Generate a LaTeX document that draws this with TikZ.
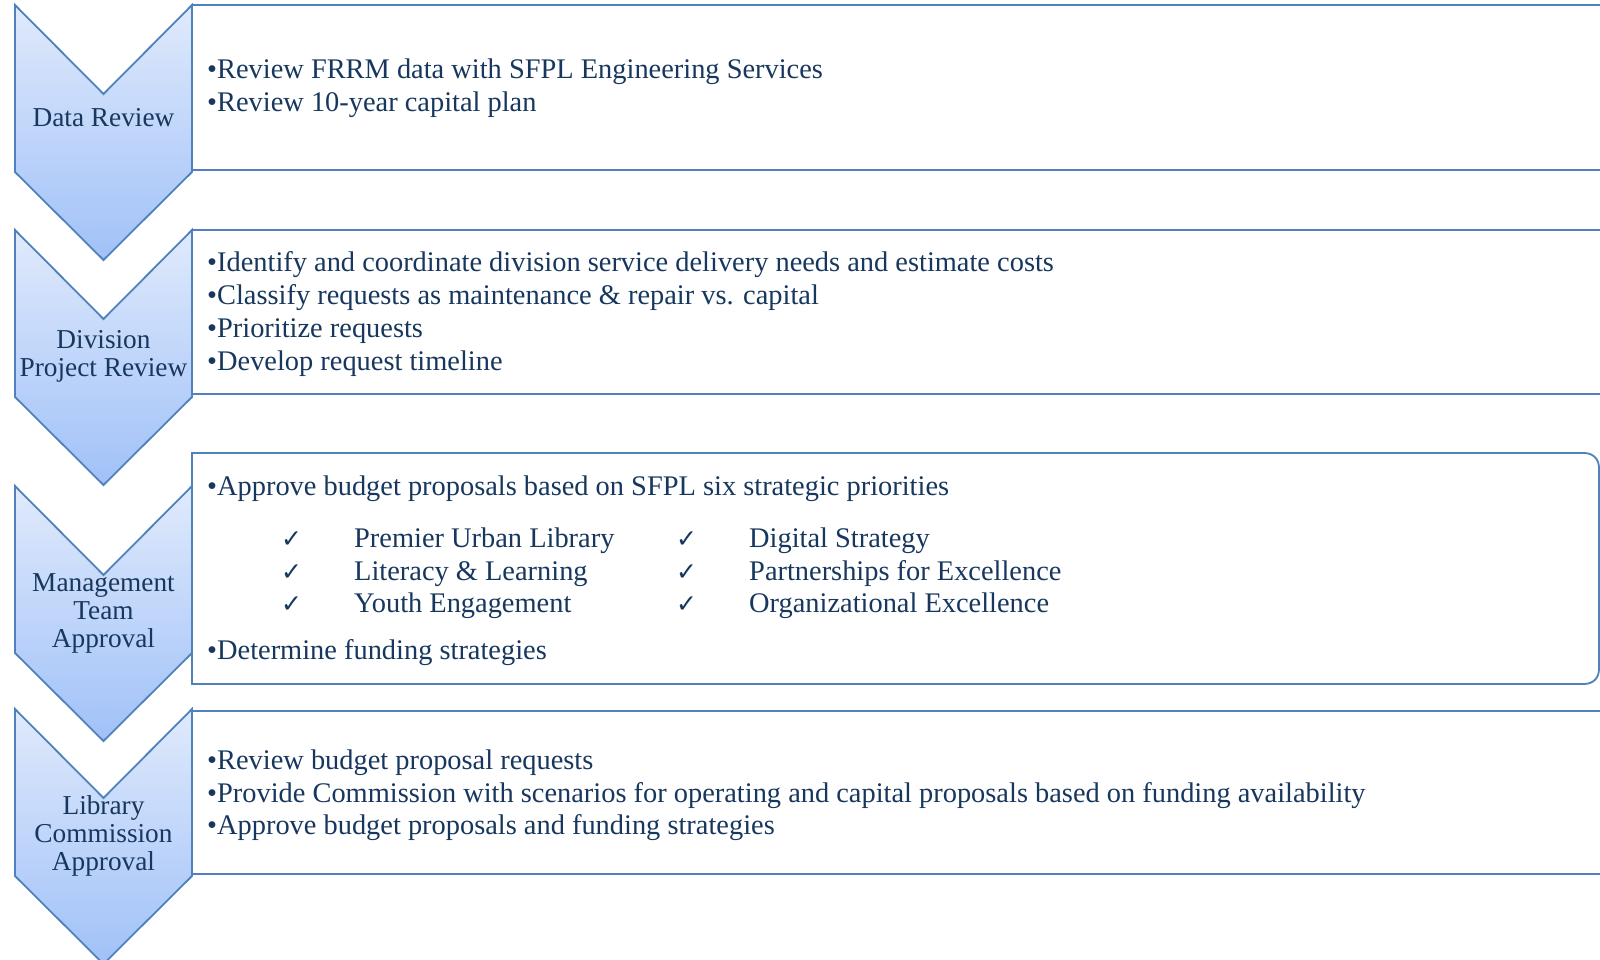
\documentclass[tikz,border=0pt]{standalone}
\usepackage{fontspec}
\setmainfont{Liberation Serif}
\newfontfamily\checkfont{DejaVu Sans}
\usepackage{tikz}
\usepackage{xcolor}

\definecolor{chevtop}{RGB}{224,234,252}
\definecolor{chevbot}{RGB}{160,193,248}
\definecolor{edgeblue}{RGB}{79,129,189}
\definecolor{inkblue}{RGB}{23,55,94}

\tikzset{
  chevron/.style={draw=edgeblue, line width=1.8pt, top color=chevtop, bottom color=chevbot},
  panel/.style={draw=edgeblue, line width=1.8pt, fill=white},
  steplabel/.style={text=inkblue, align=center, inner sep=0pt, font=\fontsize{27.3}{28}\selectfont},
  item/.style={text=inkblue, anchor=base west, inner sep=0pt, font=\fontsize{28.4}{33}\selectfont},
  tick/.style={text=inkblue, anchor=base west, inner sep=0pt, font=\checkfont\fontsize{25}{25}\selectfont}
}

\begin{document}
\begin{tikzpicture}[x=1pt,y=-1pt]
\useasboundingbox (0,0) rectangle (1600,960);

% Recuadros
\draw[panel] (192,5) rectangle (1615,170);
\draw[panel] (192,230) rectangle (1615,394);
\draw[panel] (192,684) -- (192,453) -- (1584,453) .. controls (1593,453) and (1599,459) .. (1599,468)
  -- (1599,669) .. controls (1599,678) and (1593,684) .. (1584,684) -- cycle;
\draw[panel] (192,711) rectangle (1615,874);

% Chevrones
\foreach \t in {5,230,486,709}
  \draw[chevron] (15,\t) -- (103.5,\t+89) -- (192,\t) -- (192,\t+167) -- (103.5,\t+255) -- (15,\t+167) -- cycle;

% Etapas
\node[steplabel] (data) at (103.5,118) {Data Review};
\node[steplabel] (division) at (103.5,356) {Division\\Project Review};
\node[steplabel] (manage) at (103.5,613) {Management\\Team\\Approval};
\node[steplabel] (library) at (103.5,836) {Library\\Commission\\Approval};

% Data Review
\node[item] (data1) at (207,79) {•Review FRRM data with SFPL Engineering Services};
\node[item] (data2) at (207,112) {•Review 10-year capital plan};

% Division Project Review
\node[item] (div1) at (207,271) {•Identify and coordinate division service delivery needs and estimate costs};
\node[item] (div2) at (207,304) {•Classify requests as maintenance \& repair vs. capital};
\node[item] (div3) at (207,337) {•Prioritize requests};
\node[item] (div4) at (207,370) {•Develop request timeline};

% Management Team Approval
\node[item] (man1) at (207,495) {•Approve budget proposals based on SFPL six strategic priorities};
\foreach \y/\a/\b [count=\i] in {547/Premier Urban Library/Digital Strategy,
    580/Literacy \& Learning/Partnerships for Excellence,
    612/Youth Engagement/Organizational Excellence} {
  \node[tick] (tl\i) at (281,\y) {✓};
  \node[item] (pl\i) at (354,\y) {\a};
  \node[tick] (tr\i) at (676,\y) {✓};
  \node[item] (pr\i) at (749,\y) {\b};
}
\node[item] (man2) at (207,659) {•Determine funding strategies};

% Library Commission Approval
\node[item] (lib1) at (207,769) {•Review budget proposal requests};
\node[item] (lib2) at (207,802) {•Provide Commission with scenarios for operating and capital proposals based on funding availability};
\node[item] (lib3) at (207,834) {•Approve budget proposals and funding strategies};
\end{tikzpicture}
\end{document}
